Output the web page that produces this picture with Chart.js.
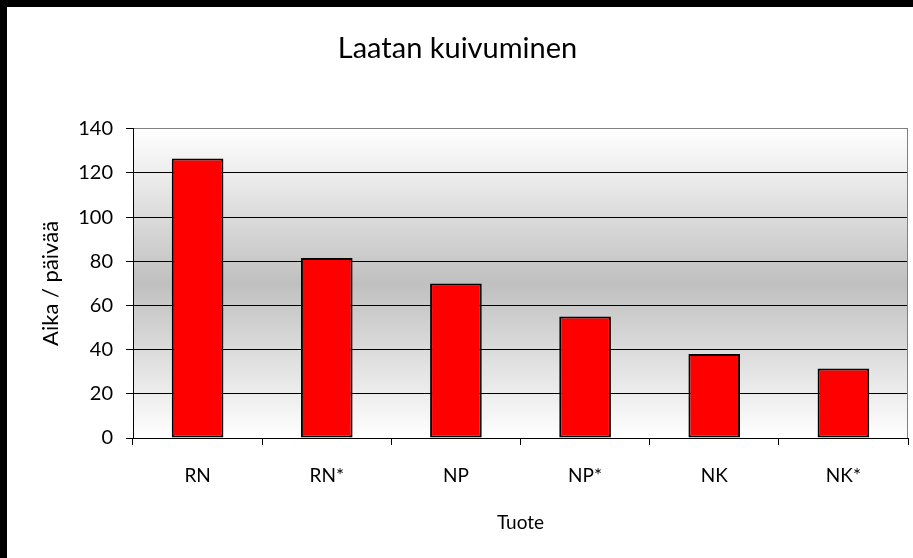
<!DOCTYPE html>
<html>
<head>
<meta charset="utf-8">
<script src="https://cdn.jsdelivr.net/npm/chart.js@4"></script>
<style>
  html, body { margin: 0; padding: 0; background: #fff; overflow: hidden; }
  #topBand { position: absolute; left: 0; top: 0; width: 913px; height: 7px; background: #000; }
  #leftBand { position: absolute; left: 0; top: 0; width: 7px; height: 558px; background: #000; }
  #wrap { position: absolute; left: 7px; top: 7px; width: 906px; height: 551px; }
</style>
</head>
<body>
<div id="topBand"></div>
<div id="leftBand"></div>
<div id="wrap"><canvas id="chart" width="906" height="551"></canvas></div>
<script>
// =====================
// DATA
// =====================
const tuotteet = ["RN", "RN*", "NP", "NP*", "NK", "NK*"];
const kuivumisaika = [126.5, 81.5, 70, 55, 38, 31.5];
const yTicks = [0, 20, 40, 60, 80, 100, 120, 140];

const FONT = "Lato, 'Open Sans', sans-serif";

// =====================
// PLOT AREA BACKGROUND
// =====================
const plotBg = {
  id: "plotBg",
  beforeDraw(chart) {
    const { ctx, chartArea: a } = chart;
    const g = ctx.createLinearGradient(0, a.top, 0, a.bottom);
    g.addColorStop(0, "#ffffff");
    g.addColorStop(0.5, "#c0c0c0");
    g.addColorStop(1, "#ffffff");
    ctx.save();
    ctx.fillStyle = g;
    ctx.fillRect(a.left, a.top, a.right - a.left, a.bottom - a.top);
    ctx.restore();
  },
  afterDraw(chart) {
    const { ctx, chartArea: a } = chart;
    ctx.save();
    ctx.strokeStyle = "#808080";
    ctx.lineWidth = 1;
    ctx.beginPath();
    ctx.moveTo(Math.round(a.right) - 0.5, a.top);
    ctx.lineTo(Math.round(a.right) - 0.5, a.bottom);
    ctx.stroke();
    ctx.restore();
  }
};

new Chart(document.getElementById("chart"), {
  type: "bar",
  data: {
    labels: tuotteet,
    datasets: [{
      data: kuivumisaika,
      backgroundColor: "#ff0000",
      borderColor: "#000000",
      borderWidth: 2,
      borderSkipped: false,
      barPercentage: 0.4,
      categoryPercentage: 1
    }]
  },
  options: {
    responsive: false,
    animation: false,
    layout: { padding: { right: 5 } },
    plugins: {
      legend: { display: false },
      tooltip: { enabled: false },
      title: {
        display: true,
        text: "Laatan kuivuminen",
        color: "#000",
        font: { family: FONT, size: 29, weight: "normal" },
        padding: { top: 24, bottom: 63 }
      }
    },
    scales: {
      x: {
        grid: {
          offset: true,
          drawOnChartArea: false,
          drawTicks: true,
          tickLength: 7,
          color: "#000"
        },
        border: { color: "#000", width: 1 },
        ticks: {
          color: "#000",
          padding: 19,
          font: { family: FONT, size: 19 }
        },
        title: {
          display: true,
          text: "Tuote",
          color: "#000",
          font: { family: FONT, size: 19 },
          padding: { top: 24, bottom: 24 }
        },
        afterFit(scale) { scale.height = 120; }
      },
      y: {
        min: 0,
        max: 140,
        afterBuildTicks(scale) {
          scale.ticks = yTicks.map(v => ({ value: v }));
        },
        grid: {
          color: ctx => (ctx.tick && ctx.tick.value === 140 ? "#808080" : "#000"),
          tickColor: "#000",
          tickLength: 7,
          lineWidth: 1
        },
        border: { color: "#000", width: 1 },
        ticks: {
          color: "#000",
          padding: 13,
          font: { family: FONT, size: 20 }
        },
        title: {
          display: true,
          text: "Aika / päivää",
          color: "#000",
          font: { family: FONT, size: 22 },
          padding: { top: 31, bottom: 31 }
        },
        afterFit(scale) { scale.width = 126; }
      }
    }
  },
  plugins: [plotBg]
});
</script>
</body>
</html>
